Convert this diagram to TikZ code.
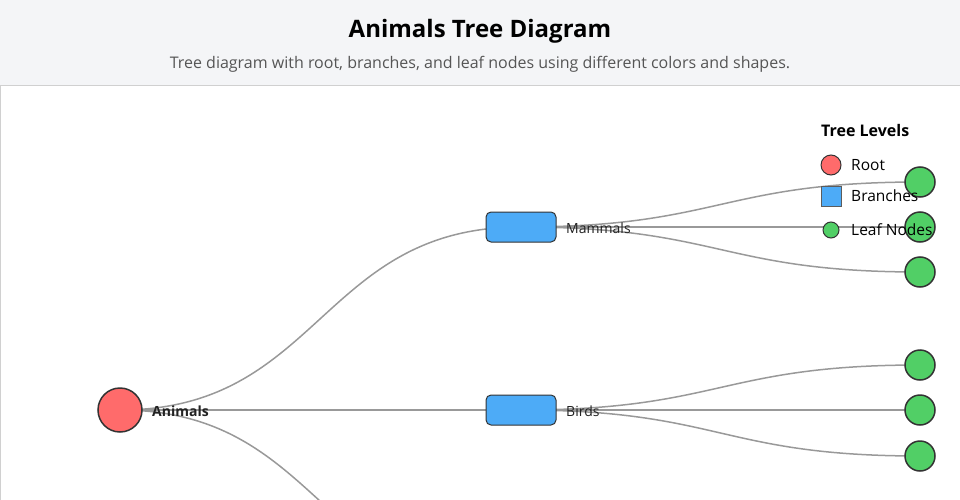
\documentclass[tikz,border=0pt]{standalone}
\usepackage{fontspec}
\setmainfont{Open Sans}
\usetikzlibrary{backgrounds}
\definecolor{hdrbg}{HTML}{F4F5F7}
\definecolor{hdrline}{HTML}{D0D0D0}
\definecolor{rootc}{HTML}{FF6B6B}
\definecolor{branchc}{HTML}{4DABF7}
\definecolor{leafc}{HTML}{51CF66}
\definecolor{linkc}{HTML}{999999}
\definecolor{strokec}{HTML}{333333}
\definecolor{txtc}{HTML}{222222}
\definecolor{subc}{HTML}{555555}
\tikzset{
  rootnode/.style={circle,draw=strokec,line width=1.5pt,fill=rootc,minimum size=44pt,inner sep=0pt},
  branchnode/.style={rectangle,rounded corners=5pt,draw=strokec,line width=1pt,fill=branchc,minimum width=70pt,minimum height=30pt,inner sep=0pt},
  leafnode/.style={circle,draw=strokec,line width=1.5pt,fill=leafc,minimum size=30pt,inner sep=0pt},
  lnk/.style={draw=linkc,line width=1.5pt},
  lbl/.style={anchor=west,inner sep=0pt,text=txtc,font=\fontsize{14}{16}\selectfont},
  leglbl/.style={anchor=west,inner sep=0pt,text=black,font=\fontsize{15.5}{18}\selectfont},
}
\begin{document}
\begin{tikzpicture}[x=1pt,y=-1pt]
\useasboundingbox (0,0) rectangle (960,500);
\begin{scope}
\clip (0,0) rectangle (960,500);
% header
\fill[hdrbg] (0,0) rectangle (960,85);
\draw[hdrline,line width=1pt] (0,85.5) -- (960,85.5);
\draw[hdrline,line width=1pt] (0.5,85.5) -- (0.5,500);
\node[font=\fontsize{24}{28}\selectfont\bfseries,text=black] (title) at (480,31) {Animals Tree Diagram};
\node[font=\fontsize{16}{19}\selectfont,text=subc] (subtitle) at (480,64) {Tree diagram with root, branches, and leaf nodes using different colors and shapes.};
% nodes
\node[rootnode] (root) at (120,410) {};
\node[branchnode] (mam) at (521,227) {};
\node[branchnode] (bir) at (521,410) {};
\coordinate (b3) at (521,593);
\node[leafnode] (m1) at (920,182) {};
\node[leafnode] (m2) at (920,227) {};
\node[leafnode] (m3) at (920,272) {};
\node[leafnode] (b1) at (920,365) {};
\node[leafnode] (b2) at (920,410) {};
\node[leafnode] (bb3) at (920,456) {};
% links
\begin{scope}[on background layer]
\draw[lnk] (root.center) .. controls +(200.5,0) and +(-200.5,0) .. (mam.center);
\draw[lnk] (root.center) -- (bir.center);
\draw[lnk] (root.center) .. controls +(200.5,0) and +(-200.5,0) .. (b3);
\foreach \c in {m1,m2,m3}{
  \draw[lnk] (mam.center) .. controls +(199.5,0) and +(-199.5,0) .. (\c.center);
}
\foreach \c in {b1,b2,bb3}{
  \draw[lnk] (bir.center) .. controls +(199.5,0) and +(-199.5,0) .. (\c.center);
}
\end{scope}
% labels
\node[lbl,font=\fontsize{14}{16}\selectfont\bfseries] (rootlbl) at (152,411) {Animals};
\node[lbl] (mamlbl) at (566,228) {Mammals};
\node[lbl] (birlbl) at (566,411) {Birds};
% legend
\node[anchor=west,inner sep=0pt,font=\fontsize{16}{19}\selectfont\bfseries] (legtitle) at (821,130) {Tree Levels};
\node[circle,draw=strokec,line width=1pt,fill=rootc,minimum size=20pt,inner sep=0pt] (legroot) at (831,165) {};
\node[leglbl] (legrootlbl) at (851,165) {Root};
\node[rectangle,draw=strokec!80,line width=1pt,fill=branchc,minimum size=20pt,inner sep=0pt] (legbr) at (831,196) {};
\node[leglbl] (legbrlbl) at (851,196) {Branches};
\node[circle,draw=strokec,line width=1pt,fill=leafc,minimum size=16pt,inner sep=0pt] (legleaf) at (831,230) {};
\node[leglbl] (legleaflbl) at (851,230) {Leaf Nodes};
\end{scope}
\end{tikzpicture}
\end{document}
